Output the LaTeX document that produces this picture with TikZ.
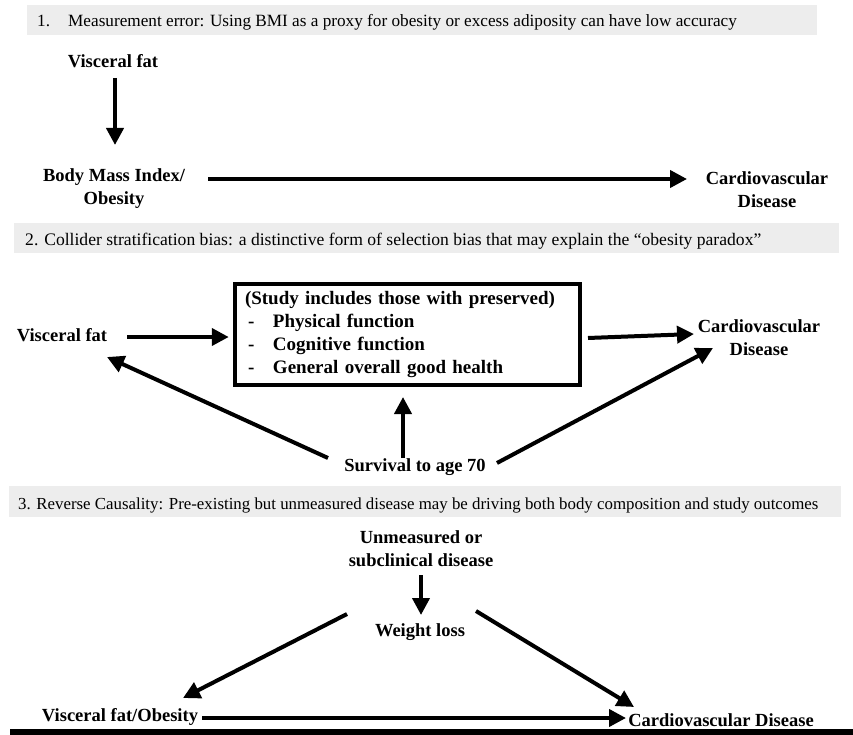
\documentclass[tikz,border=0pt]{standalone}
\usepackage{fontspec}
\setmainfont{Liberation Serif}
\usetikzlibrary{arrows.meta}
\definecolor{bargray}{HTML}{EDEDED}
\begin{document}
\begin{tikzpicture}[x=1pt,y=-1pt,
  lab/.style={font=\bfseries\fontsize{18.5}{23}\selectfont, inner sep=0pt, align=center},
  hdr/.style={font=\fontsize{17.2}{20}\selectfont, inner sep=0pt, anchor=base west},
  bar/.style={fill=bargray, draw=none},
  arr/.style={line width=4pt, -{Triangle[length=17pt,width=17pt]}},
  studybox/.style={draw, line width=4pt, minimum width=344.5pt, minimum height=101pt,
    inner xsep=10pt, inner ysep=0pt, text width=324.5pt, align=left,
    font=\bfseries\fontsize{19}{22.7}\selectfont}
  ]
\useasboundingbox (0,0) rectangle (853,735);
\fill[white] (0,0) rectangle (853,735);

% ---------- Section 1 ----------
\fill[bar] (27,5) rectangle (817,35);
\node[hdr] (h1) at (37,26.7) {\makebox[31pt][l]{1.}Measurement error: Using BMI as a proxy for obesity or excess adiposity can have low accuracy};
\node[lab] (vf1) at (113,61) {Visceral fat};
\node[lab] (bmi) at (114,189) {Body Mass Index/\\Obesity};
\node[lab] (cvd1) at (767,190) {Cardiovascular\\Disease};
\draw[arr] ([shift={(2,17)}]vf1.center) -- ([shift={(1,-44)}]bmi.center);
\draw[arr] ([shift={(94,-10)}]bmi.center) -- ([shift={(-80,-11)}]cvd1.center);

% ---------- Section 2 ----------
\fill[bar] (14,223) rectangle (839,253);
\node[hdr, font=\fontsize{17.6}{20}\selectfont] (h2) at (25,246) {2. Collider stratification bias: a distinctive form of selection bias that may explain the “obesity paradox”};
\node[lab] (vf2) at (62,335) {Visceral fat};
\node[studybox] (box) at (407.25,334.5) {(Study includes those with preserved)\\
  \hspace*{3pt}\makebox[25pt][l]{-}Physical function\\
  \hspace*{3pt}\makebox[25pt][l]{-}Cognitive function\\
  \hspace*{3pt}\makebox[25pt][l]{-}General overall good health};
\node[lab] (cvd2) at (759,337.5) {Cardiovascular\\Disease};
\node[lab] (surv) at (415,467) {Survival to age 70};
\draw[arr] ([shift={(65,2)}]vf2.center) -- ([shift={(-178.5,2.5)}]box.center);
\draw[arr] ([shift={(180.75,3.5)}]box.center) -- ([shift={(-65,-3.5)}]cvd2.center);
\draw[arr] ([shift={(-87,-9)}]surv.center) -- ([shift={(45,22)}]vf2.center);
\draw[arr] ([shift={(-12,-9)}]surv.center) -- ([shift={(-4.25,62.5)}]box.center);
\draw[arr] ([shift={(82,-4)}]surv.center) -- ([shift={(-46,10.5)}]cvd2.center);

% ---------- Section 3 ----------
\fill[bar] (9,486) rectangle (841,517);
\node[hdr, font=\fontsize{16.85}{20}\selectfont] (h3) at (18,509) {3. Reverse Causality: Pre-existing but unmeasured disease may be driving both body composition and study outcomes};
\node[lab] (unm) at (421,548.5) {Unmeasured or\\subclinical disease};
\node[lab] (wl) at (420,632) {Weight loss};
\node[lab] (vf3) at (120,717) {Visceral fat/Obesity};
\node[lab] (cvd3) at (721,720) {Cardiovascular Disease};
\draw[arr] ([shift={(0,26.5)}]unm.center) -- ([shift={(1,-17)}]wl.center);
\draw[arr] ([shift={(-73,-18)}]wl.center) -- ([shift={(63,-19)}]vf3.center);
\draw[arr] ([shift={(56,-21)}]wl.center) -- ([shift={(-87,-13)}]cvd3.center);
\draw[arr] ([shift={(82,1)}]vf3.center) -- ([shift={(-95,-2)}]cvd3.center);

% bottom rule
\fill[black] (10,729) rectangle (853,735);
\end{tikzpicture}
\end{document}
